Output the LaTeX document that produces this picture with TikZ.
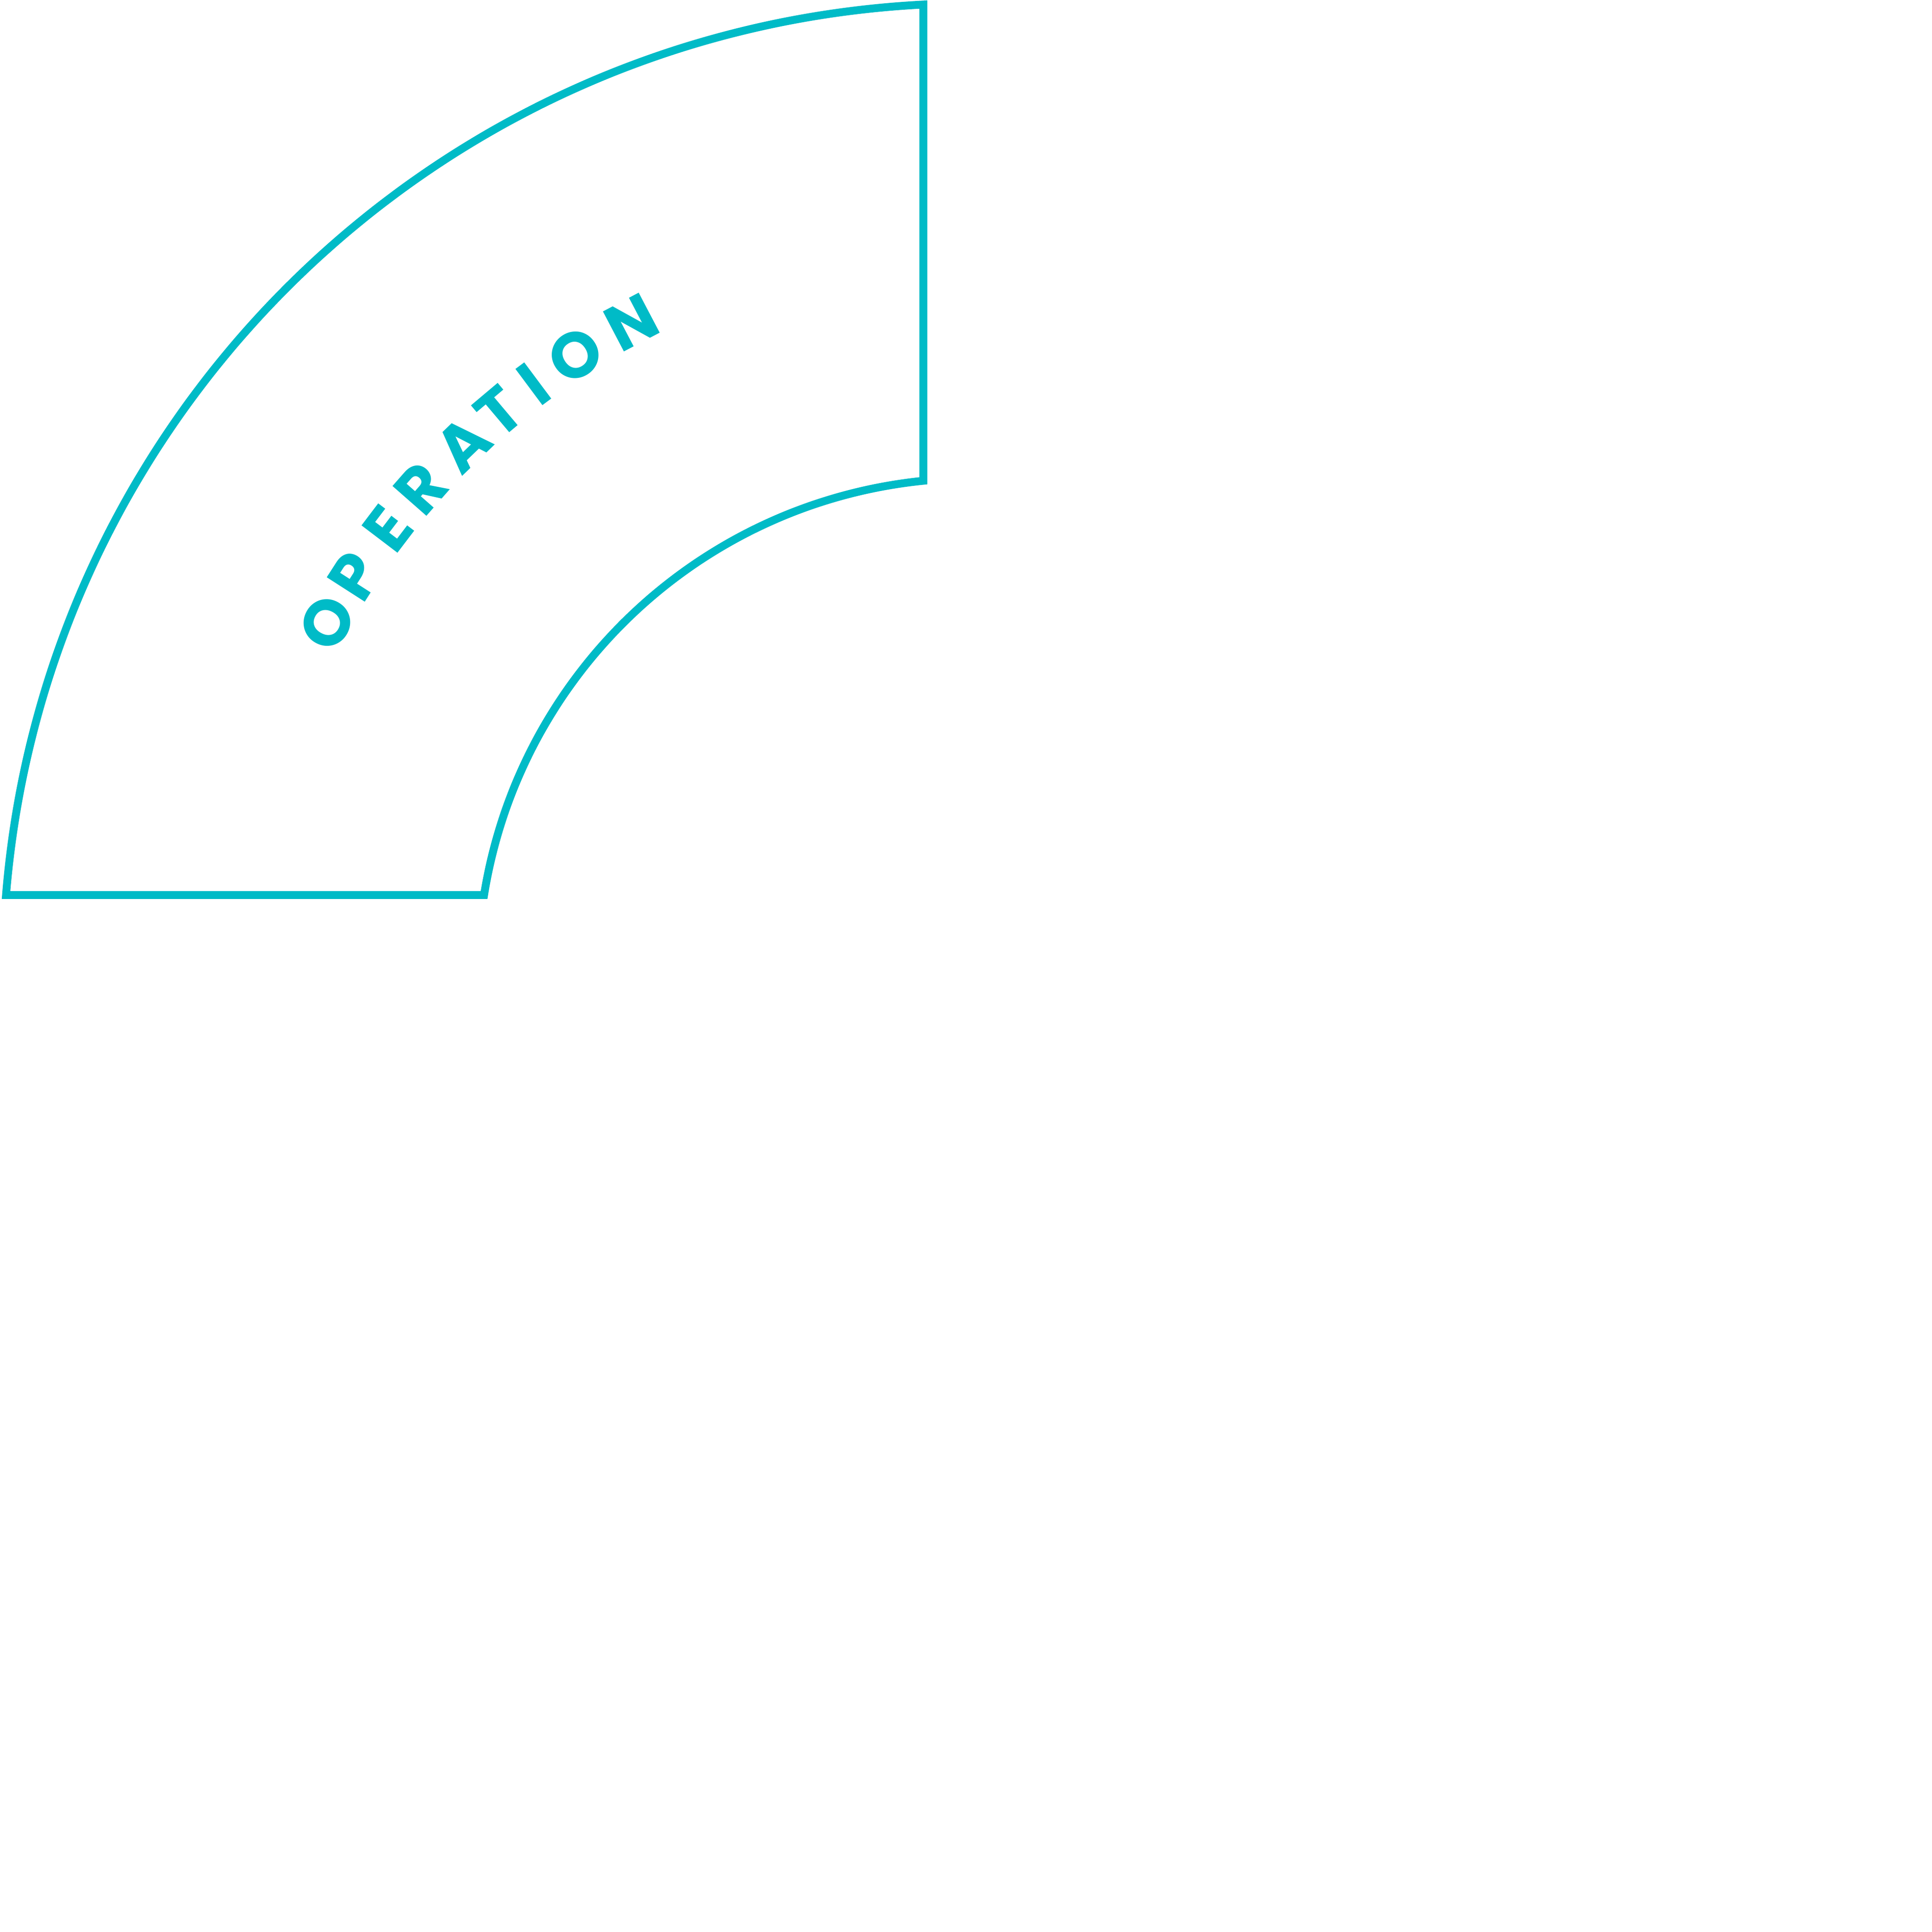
\documentclass[tikz,border=0pt]{standalone}
\usepackage{fontspec}
\newfontfamily\opfont{Poppins Bold}
\definecolor{opteal}{RGB}{0,187,199}

\begin{document}
\begin{tikzpicture}
      \tikzstyle{ring}=[draw=opteal, line width=0.17cm, line join=miter]
      \tikzstyle{lbl}=[text=opteal, inner sep=0pt, font=\opfont\fontsize{39.5}{41}\selectfont];

      \useasboundingbox (-20.99,-20.67) rectangle (20.68,21.00);

      \draw[ring] (92.94:20.93) arc[start angle=92.94, end angle=175.35, radius=20.93]
        -- (170.87:10.685) arc[start angle=170.87, end angle=95.77, radius=10.685] -- cycle;

      \foreach \ch/\ang [count=\i] in {O/151.51, P/147.26, E/142.75, R/138.69, A/133.96, T/130.15, I/126.71, O/122.76, N/117.68}
        \node[lbl, rotate=\ang-90] (letter\i) at (\ang:15.86) {\ch};
\end{tikzpicture}
\end{document}
